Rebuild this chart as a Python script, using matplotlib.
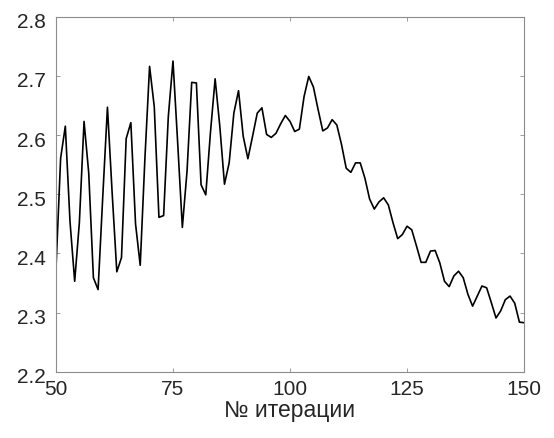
import matplotlib
matplotlib.use('Agg')
import matplotlib.pyplot as plt
import matplotlib.transforms as mtransforms
import numpy as np

plt.rcParams['font.family'] = ['Liberation Sans', 'DejaVu Sans']

# iteration numbers and values
iterations = np.arange(50, 151)
values = [
    2.373, 2.561, 2.615, 2.454, 2.353, 2.452, 2.623, 2.536, 2.359, 2.339,
    2.496, 2.647, 2.503, 2.369, 2.393, 2.594, 2.621, 2.450, 2.380, 2.560,
    2.716, 2.648, 2.461, 2.464, 2.631, 2.725, 2.587, 2.444, 2.539, 2.689,
    2.688, 2.516, 2.499, 2.604, 2.695, 2.615, 2.517, 2.553, 2.637, 2.675,
    2.598, 2.560, 2.598, 2.637, 2.646, 2.601, 2.596, 2.603, 2.619, 2.633,
    2.623, 2.606, 2.610, 2.665, 2.699, 2.681, 2.643, 2.607, 2.612, 2.626,
    2.617, 2.584, 2.544, 2.537, 2.553, 2.553, 2.527, 2.492, 2.475, 2.487,
    2.494, 2.482, 2.452, 2.425, 2.432, 2.446, 2.440, 2.413, 2.385, 2.385,
    2.404, 2.405, 2.384, 2.353, 2.344, 2.362, 2.370, 2.359, 2.331, 2.311,
    2.328, 2.345, 2.342, 2.317, 2.291, 2.303, 2.322, 2.328, 2.316, 2.284,
    2.283,
]
xticks = [50, 75, 100, 125, 150]
yticks = [2.2, 2.3, 2.4, 2.5, 2.6, 2.7, 2.8]

fig = plt.figure(figsize=(5.54, 4.38), dpi=100)
ax = fig.add_axes([0.101, 0.151, 0.845, 0.811])

ax.plot(iterations, values, color='black', linewidth=1.2)

ax.set_xlim(50, 150)
ax.set_ylim(2.2, 2.8)
ax.set_xticks(xticks)
ax.set_yticks(yticks)
ax.set_yticklabels(['%.1f' % t for t in yticks])

for s in ax.spines.values():
    s.set_color('#8c8c8c')
    s.set_linewidth(0.8)
ax.tick_params(direction='in', top=True, right=True, length=3, width=0.6,
               color='#8c8c8c', labelcolor='#262626', labelsize=15)
ax.tick_params(axis='x', pad=6)
ax.tick_params(axis='y', pad=7)

# labels on the y axis sit a little below their ticks in the reference
shift = mtransforms.ScaledTranslation(0, -4 / 100, fig.dpi_scale_trans)
for lab in ax.get_yticklabels():
    lab.set_transform(lab.get_transform() + shift)

ax.set_xlabel('№ итерации', fontsize=16.5, color='#262626', labelpad=0)

fig.savefig('out.png', dpi=100)
